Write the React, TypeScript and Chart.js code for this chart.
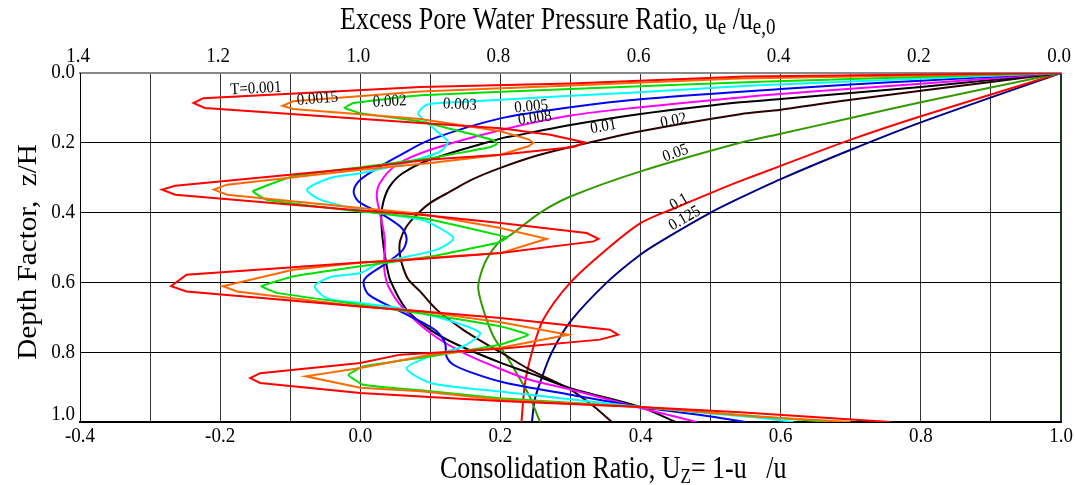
import React, { useEffect, useRef } from 'react';
import { Chart, registerables } from 'chart.js';

Chart.register(...registerables);

// ---- Isochrones: consolidation ratio U (x) vs depth factor z/H (y) ----
const t0010U = [1.0, 0.55, 0.3, 0.086, -0.224, -0.238, -0.222, 0.086, 0.2, 0.271, 0.321, 0.304, 0.2, 0.1, 0.0, -0.264, -0.283, -0.264, 0.0, 0.086, 0.2, 0.323, 0.34, 0.333, 0.2, 0.057, 0.0, -0.248, -0.27, -0.248, 0.0, 0.086, 0.2, 0.356, 0.368, 0.342, 0.2, 0.057, 0.0, -0.143, -0.157, -0.143, 0.0, 0.086, 0.2, 0.4, 0.542, 0.756];
const t0010Z = [0, 0.01, 0.03, 0.04, 0.072, 0.086, 0.1, 0.143, 0.158, 0.177, 0.199, 0.212, 0.234, 0.248, 0.272, 0.323, 0.334, 0.349, 0.394, 0.406, 0.43, 0.4585, 0.475, 0.4825, 0.516, 0.537, 0.543, 0.578, 0.611, 0.626, 0.669, 0.683, 0.702, 0.7355, 0.75, 0.764, 0.79, 0.807, 0.831, 0.86, 0.874, 0.888, 0.917, 0.927, 0.94, 0.957, 0.972, 1.0];

const t0015U = [1.0, 0.542, 0.3, 0.086, -0.096, -0.111, -0.096, 0.086, 0.2, 0.24, 0.247, 0.24, 0.2, 0.1, 0.0, -0.19, -0.209, -0.19, 0.0, 0.086, 0.2, 0.266, 0.2, 0.057, 0.0, -0.096, -0.196, -0.176, 0.0, 0.086, 0.2, 0.297, 0.2, 0.1, 0.0, -0.078, 0.0, 0.086, 0.2, 0.4, 0.57, 0.70];
const t0015Z = [0, 0.016, 0.036, 0.053, 0.081, 0.094, 0.103, 0.132, 0.167, 0.19, 0.2, 0.21, 0.234, 0.258, 0.277, 0.32, 0.334, 0.349, 0.387, 0.403, 0.444, 0.475, 0.516, 0.535, 0.544, 0.564, 0.611, 0.626, 0.669, 0.683, 0.714, 0.75, 0.787, 0.807, 0.845, 0.869, 0.902, 0.912, 0.936, 0.957, 0.985, 1.0];

const t0020U = [1.0, 0.57, 0.3, 0.086, -0.01, -0.022, 0.0, 0.086, 0.152, 0.19, 0.195, 0.185, 0.1, 0.0, -0.096, -0.153, -0.134, 0.0, 0.086, 0.2, 0.209, 0.195, 0.1, 0.0, -0.096, -0.141, -0.119, 0.0, 0.09, 0.2, 0.24, 0.2, 0.1, 0.004, -0.017, 0.004, 0.1, 0.2, 0.4, 0.57, 0.67];
const t0020Z = [0, 0.025, 0.046, 0.064, 0.086, 0.1, 0.115, 0.139, 0.172, 0.193, 0.203, 0.213, 0.244, 0.27, 0.296, 0.339, 0.363, 0.397, 0.415, 0.466, 0.473, 0.487, 0.526, 0.554, 0.583, 0.611, 0.63, 0.664, 0.69, 0.726, 0.75, 0.778, 0.812, 0.841, 0.865, 0.893, 0.912, 0.932, 0.957, 0.984, 1.0];

const t0030U = [1.0, 0.57, 0.4, 0.3, 0.2, 0.1, 0.088, 0.083, 0.1, 0.114, 0.125, 0.114, 0.06, 0.0, -0.043, -0.076, -0.057, 0.0, 0.086, 0.1, 0.133, 0.109, 0.028, 0.0, -0.043, -0.065, -0.048, 0.0, 0.05, 0.123, 0.171, 0.147, 0.1, 0.066, 0.1, 0.195, 0.242, 0.4, 0.57, 0.618];
const t0030Z = [0, 0.035, 0.055, 0.065, 0.077, 0.088, 0.1, 0.118, 0.15, 0.175, 0.197, 0.225, 0.26, 0.287, 0.301, 0.334, 0.363, 0.392, 0.42, 0.43, 0.473, 0.506, 0.544, 0.573, 0.585, 0.611, 0.645, 0.659, 0.672, 0.707, 0.745, 0.783, 0.812, 0.846, 0.888, 0.912, 0.922, 0.957, 0.988, 1.0];

const t0050U = [1.0, 0.8, 0.7, 0.6, 0.4, 0.3, 0.2, 0.1, 0.057, 0.028, 0.0, -0.0095, -0.0024, 0.028, 0.057, 0.066, 0.061, 0.038, 0.0095, 0.0046, 0.012, 0.052, 0.09, 0.109, 0.121, 0.123, 0.133, 0.161, 0.204, 0.3, 0.4, 0.5, 0.55];
const t0050Z = [0, 0.022, 0.033, 0.046, 0.075, 0.098, 0.13, 0.191, 0.235, 0.268, 0.306, 0.339, 0.368, 0.401, 0.44, 0.473, 0.506, 0.544, 0.583, 0.602, 0.635, 0.678, 0.716, 0.74, 0.774, 0.812, 0.836, 0.86, 0.886, 0.922, 0.957, 0.984, 1.0];

const t0080U = [1.0, 0.8, 0.7, 0.6, 0.542, 0.4, 0.3, 0.2, 0.1, 0.052, 0.028, 0.0235, 0.028, 0.035, 0.034, 0.035, 0.04, 0.059, 0.1, 0.147, 0.2, 0.242, 0.3, 0.4, 0.48];
const t0080Z = [0, 0.031, 0.045, 0.06, 0.07, 0.098, 0.122, 0.164, 0.22, 0.263, 0.315, 0.3535, 0.401, 0.478, 0.544, 0.575, 0.611, 0.669, 0.745, 0.802, 0.848, 0.879, 0.907, 0.96, 1.0];

const t0100U = [1.0, 0.8, 0.7, 0.6, 0.542, 0.4, 0.3, 0.22, 0.2, 0.1, 0.06, 0.042, 0.033, 0.03, 0.032, 0.037, 0.043, 0.066, 0.1, 0.138, 0.2, 0.242, 0.3, 0.4, 0.45];
const t0100Z = [0, 0.04, 0.057, 0.0745, 0.084, 0.1175, 0.149, 0.18, 0.188, 0.248, 0.288, 0.325, 0.368, 0.411, 0.478, 0.544, 0.595, 0.678, 0.736, 0.778, 0.83, 0.86, 0.903, 0.957, 1.0];

const t0200U = [1.0, 0.8, 0.7, 0.6, 0.542, 0.4, 0.3, 0.25, 0.2, 0.16, 0.128, 0.1, 0.081, 0.066, 0.057, 0.056, 0.059, 0.068, 0.085, 0.109, 0.147, 0.185, 0.2, 0.242, 0.3, 0.333, 0.359];
const t0200Z = [0, 0.051, 0.0765, 0.105, 0.118, 0.167, 0.212, 0.238, 0.272, 0.305, 0.34, 0.372, 0.405, 0.44, 0.48, 0.51, 0.544, 0.59, 0.625, 0.678, 0.736, 0.783, 0.8, 0.85, 0.907, 0.955, 1.0];

const t0500U = [1.0, 0.8, 0.7, 0.6, 0.542, 0.4, 0.3, 0.257, 0.214, 0.2, 0.18, 0.17, 0.1685, 0.1756, 0.19, 0.209, 0.223, 0.24, 0.2565];
const t0500Z = [0, 0.084, 0.129, 0.174, 0.2, 0.282, 0.354, 0.4, 0.465, 0.48, 0.535, 0.59, 0.621, 0.678, 0.755, 0.812, 0.86, 0.92, 1.0];

const t1000U = [1.0, 0.8, 0.7, 0.6, 0.542, 0.5, 0.45, 0.4, 0.35, 0.3, 0.261, 0.245, 0.235, 0.23];
const t1000Z = [0, 0.124, 0.191, 0.266, 0.31, 0.344, 0.386, 0.43, 0.508, 0.6, 0.707, 0.8, 0.89, 1.0];

const t1250U = [1.0, 0.8, 0.7, 0.6, 0.542, 0.5, 0.4325, 0.4, 0.352, 0.3, 0.273, 0.258, 0.249, 0.245];
const t1250Z = [0, 0.1415, 0.22, 0.304, 0.358, 0.4, 0.478, 0.52, 0.6, 0.712, 0.802, 0.879, 0.936, 1.0];

// ---- Curve labels (text, U, z, rotation in degrees) ----
const labelTexts = ['T=0.001', '0.0015', '0.002', '0.003', '0.005', '0.008', '0.01', '0.02', '0.05', '0.1', '0.125'];
const labelU = [-0.149, -0.061, 0.042, 0.142, 0.244, 0.249, 0.347, 0.447, 0.45, 0.455, 0.463];
const labelZ = [0.045, 0.074, 0.082, 0.091, 0.0966, 0.1295, 0.154, 0.137, 0.23, 0.37, 0.417];
const labelRot = [-3, -5, -3, 3, -5, -8, -10, -12, -20, -30, -30];

// ---- Tick labels ----
const bottomTickValues = [-0.4, -0.2, 0.0, 0.2, 0.4, 0.6, 0.8, 1.0];
const bottomTickLabels = ['-0.4', '-0.2', '0.0', '0.2', '0.4', '0.6', '0.8', '1.0'];
const topTickValues = [1.4, 1.2, 1.0, 0.8, 0.6, 0.4, 0.2, 0.0];
const topTickLabels = ['1.4', '1.2', '1.0', '0.8', '0.6', '0.4', '0.2', '0.0'];
const leftTickValues = [0.0, 0.2, 0.4, 0.6, 0.8, 1.0];
const leftTickLabels = ['0.0', '0.2', '0.4', '0.6', '0.8', '1.0'];

const curves = [
  { name: 'T=0.001', color: '#ff0000', u: t0010U, z: t0010Z, tension: 0 },
  { name: 'T=0.0015', color: '#ff6a00', u: t0015U, z: t0015Z, tension: 0 },
  { name: 'T=0.002', color: '#00e000', u: t0020U, z: t0020Z, tension: 0.1 },
  { name: 'T=0.003', color: '#00ffff', u: t0030U, z: t0030Z, tension: 0.25 },
  { name: 'T=0.005', color: '#0000ff', u: t0050U, z: t0050Z, tension: 0.3 },
  { name: 'T=0.008', color: '#ff00ff', u: t0080U, z: t0080Z, tension: 0.3 },
  { name: 'T=0.01', color: '#000000', u: t0100U, z: t0100Z, tension: 0.3 },
  { name: 'T=0.02', color: '#2b0000', u: t0200U, z: t0200Z, tension: 0.3 },
  { name: 'T=0.05', color: '#339900', u: t0500U, z: t0500Z, tension: 0.3 },
  { name: 'T=0.1', color: '#ff0000', u: t1000U, z: t1000Z, tension: 0.3 },
  { name: 'T=0.125', color: '#000080', u: t1250U, z: t1250Z, tension: 0.3 },
];

const FONT = '"Liberation Serif", "Times New Roman", serif';

function drawScaled(ctx: CanvasRenderingContext2D, text: string, x: number, y: number, sx: number, sy: number, rotDeg = 0) {
  ctx.save();
  ctx.translate(x, y);
  if (rotDeg) ctx.rotate((rotDeg * Math.PI) / 180);
  ctx.scale(sx, sy);
  ctx.fillText(text, 0, 0);
  ctx.restore();
}

type Piece = { t: string; sub?: boolean };

function drawPieces(ctx: CanvasRenderingContext2D, pieces: Piece[], x: number, y: number, size: number, subSize: number, sy: number) {
  let cx = x;
  ctx.textAlign = 'left';
  ctx.textBaseline = 'alphabetic';
  for (const p of pieces) {
    ctx.font = `${p.sub ? subSize : size}px ${FONT}`;
    drawScaled(ctx, p.t, cx, y + (p.sub ? 5 : 0), 1, sy);
    cx += ctx.measureText(p.t).width;
  }
}

const textPlugin = {
  id: 'textPlugin',
  afterDraw(chart: any) {
    const ctx: CanvasRenderingContext2D = chart.ctx;
    const xs = chart.scales.x;
    const xt = chart.scales.xTop;
    const ys = chart.scales.y;
    ctx.save();
    ctx.fillStyle = '#000';
    // tick labels
    ctx.font = `19px ${FONT}`;
    ctx.textAlign = 'center';
    ctx.textBaseline = 'middle';
    bottomTickValues.forEach((v, i) => drawScaled(ctx, bottomTickLabels[i], xs.getPixelForValue(v), 437, 1, 1.08));
    topTickValues.forEach((v, i) => drawScaled(ctx, topTickLabels[i], xt.getPixelForValue(v) - 2, 57, 1, 1.08));
    ctx.textAlign = 'right';
    leftTickValues.forEach((v, i) => {
      let py = ys.getPixelForValue(v);
      if (v === 1.0) py -= 7;
      drawScaled(ctx, leftTickLabels[i], 75, py, 1, 1.08);
    });
    // axis titles
    drawPieces(ctx, [
      { t: 'Excess Pore Water Pressure Ratio, u' },
      { t: 'e', sub: true },
      { t: ' /u' },
      { t: 'e,0', sub: true },
    ], 340, 29, 26, 19, 1.18);
    drawPieces(ctx, [
      { t: 'Consolidation Ratio, U' },
      { t: 'Z', sub: true },
      { t: '= 1-u   /u' },
    ], 440, 478, 26, 17, 1.18);
    ctx.save();
    ctx.translate(36, 252);
    ctx.rotate(-Math.PI / 2);
    ctx.font = `28px ${FONT}`;
    ctx.textAlign = 'center';
    ctx.textBaseline = 'alphabetic';
    drawScaled(ctx, 'Depth Factor,  z/H', 0, 0, 1.04, 1.0);
    ctx.restore();
    // curve labels
    ctx.font = `15px ${FONT}`;
    ctx.textAlign = 'center';
    ctx.textBaseline = 'middle';
    labelTexts.forEach((t, i) => {
      drawScaled(ctx, t, xs.getPixelForValue(labelU[i]), ys.getPixelForValue(labelZ[i]), 1, 1.1, labelRot[i]);
    });
    ctx.restore();
  },
};

export default function App() {
  const ref = useRef<HTMLCanvasElement | null>(null);
  useEffect(() => {
    if (!ref.current) return;
    const chart = new Chart(ref.current, {
      type: 'line',
      data: {
        datasets: curves.map((c) => ({
          label: c.name,
          data: c.u.map((u, i) => ({ x: u, y: c.z[i] })),
          borderColor: c.color,
          backgroundColor: c.color,
          borderWidth: 2,
          pointRadius: 0,
          tension: c.tension,
          fill: false,
        })),
      },
      options: {
        animation: false,
        responsive: false,
        maintainAspectRatio: false,
        parsing: false as any,
        layout: { padding: { left: 0, right: 14, top: 0, bottom: 0 } },
        plugins: { legend: { display: false }, tooltip: { enabled: false }, title: { display: false } },
        scales: {
          x: {
            type: 'linear',
            position: 'bottom',
            min: -0.4,
            max: 1.0,
            ticks: { display: false, stepSize: 0.1 },
            grid: {
              drawTicks: false,
              color: (c: any) => (Math.abs(c.tick.value - 1) < 1e-6 ? '#1c3a1c' : '#333333'),
              lineWidth: (c: any) => (Math.abs(c.tick.value - 1) < 1e-6 ? 2 : 1),
            },
            border: { color: '#000', width: 2 },
            afterFit: (s: any) => { s.height = 63; },
          },
          xTop: {
            type: 'linear',
            position: 'top',
            min: 0,
            max: 1.4,
            reverse: true,
            ticks: { display: false, stepSize: 0.2 },
            grid: { display: false, drawTicks: false },
            border: { color: '#888', width: 2 },
            afterFit: (s: any) => { s.height = 73; },
          },
          y: {
            type: 'linear',
            position: 'left',
            min: 0,
            max: 1,
            reverse: true,
            ticks: { display: false, stepSize: 0.2 },
            grid: { drawTicks: false, color: '#000' },
            border: { color: '#000', width: 1 },
            afterFit: (s: any) => { s.width = 80; },
          },
        },
      } as any,
      plugins: [textPlugin],
    });
    return () => chart.destroy();
  }, []);
  return (
    <div style={{ position: 'fixed', left: 0, top: 0, width: 1075, height: 485, background: '#fff' }}>
      <canvas ref={ref} width={1075} height={485} style={{ display: 'block' }} />
    </div>
  );
}
